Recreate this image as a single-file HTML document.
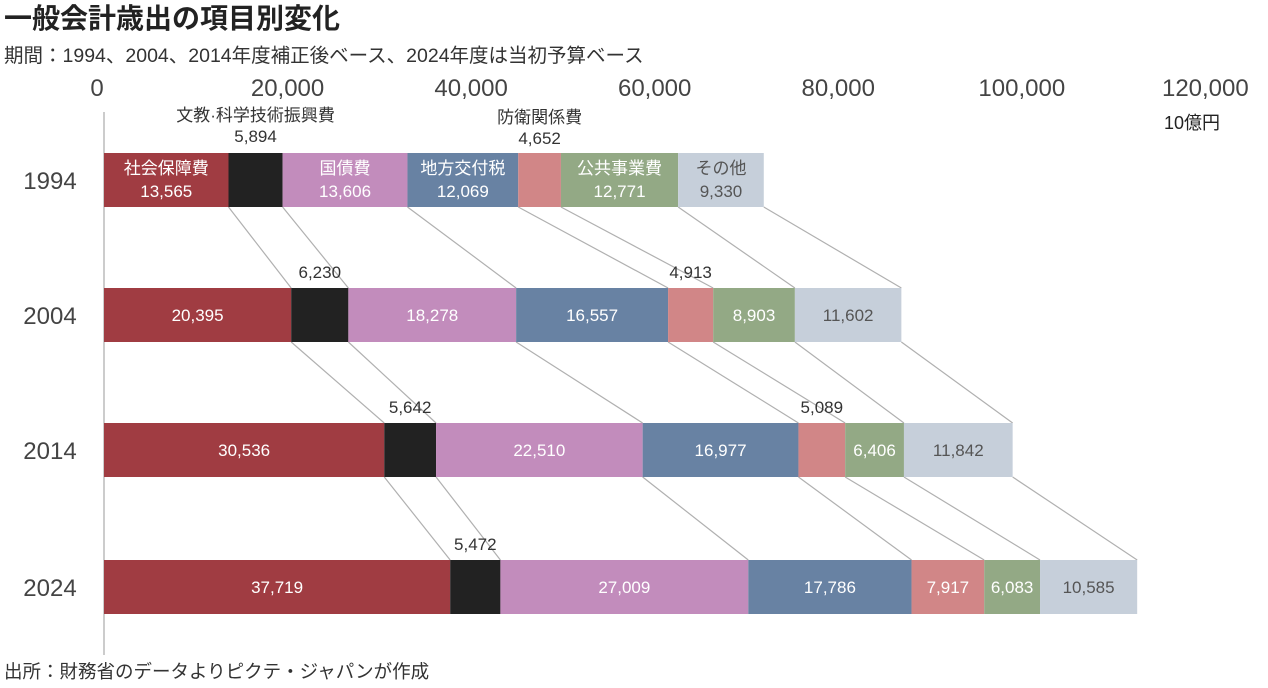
<!DOCTYPE html>
<html><head><meta charset="utf-8">
<style>
body{margin:0;background:#fff;width:1268px;height:688px;overflow:hidden;font-family:"Liberation Sans","Noto Sans CJK JP",sans-serif;}
svg{display:block}
</style></head>
<body>
<svg id="chart" width="1268" height="688">
<text x="4" y="28" font-size="28" font-weight="bold" fill="#222">一般会計歳出の項目別変化</text>
<text x="4" y="62" font-size="19.5" fill="#333">期間：1994、2004、2014年度補正後ベース、2024年度は当初予算ベース</text>
<text x="1192" y="129" font-size="18" fill="#222" text-anchor="middle">10億円</text>
<text x="4" y="678" font-size="18.5" fill="#333">出所：財務省のデータよりピクテ・ジャパンが作成</text>
<line x1="104" y1="112" x2="104" y2="655" stroke="#ccc" stroke-width="2"/>
<g id="ticks"></g><g id="links"></g><g id="bars"></g><g id="labels"></g>
</svg>
<script>
const years = ["1994","2004","2014","2024"];
const categories = ["社会保障費","文教·科学技術振興費","国債費","地方交付税","防衛関係費","公共事業費","その他"];
const social = [13565,20395,30536,37719];
const education = [5894,6230,5642,5472];
const debt = [13606,18278,22510,27009];
const localTax = [12069,16557,16977,17786];
const defense = [4652,4913,5089,7917];
const publicWorks = [12771,8903,6406,6083];
const other = [9330,11602,11842,10585];
const tickValues = [0,20000,40000,60000,80000,100000,120000];
const tickLabels = ["0","20,000","40,000","60,000","80,000","100,000","120,000"];

const series=[social,education,debt,localTax,defense,publicWorks,other];
const colors=["#a03c42","#222222","#c28cbc","#6882a3","#d18687","#93a985","#c6cfda"];
const textColors=["#fff","#fff","#fff","#fff","#fff","#fff","#555"];
const x=v=>104+v*0.009178;
const rowTop=[153,288,423,560], barH=54;
const NS="http://www.w3.org/2000/svg";
function el(tag,attrs,parent,text){const e=document.createElementNS(NS,tag);for(const k in attrs)e.setAttribute(k,attrs[k]);if(text!==undefined)e.textContent=text;document.getElementById(parent).appendChild(e);return e;}
const fmt=v=>v.toLocaleString("en-US");
tickValues.forEach((v,i)=>{
  const t=el("text",{x:v===0?x(v)-7:x(v),y:96,"font-size":24,fill:"#444","text-anchor":"middle"},"ticks",tickLabels[i]);
  
  
});
const bounds=years.map((y,r)=>{let c=0;const b=[0];series.forEach(s=>{c+=s[r];b.push(c);});return b;});
for(let r=0;r<years.length-1;r++){
  bounds[r].forEach((v,i)=>{if(i===0)return;
    const l=el("line",{x1:x(v),y1:rowTop[r]+barH,x2:x(bounds[r+1][i]),y2:rowTop[r+1],stroke:"#b0b0b0","stroke-width":1.2},"links");
    
    
  });
}
years.forEach((yr,r)=>{
  const yl=el("text",{x:50,y:rowTop[r]+barH/2+9,"font-size":24,fill:"#444","text-anchor":"middle"},"labels",yr);
  
  
  series.forEach((s,i)=>{
    const x0=x(bounds[r][i]),x1=x(bounds[r][i+1]),cx=(x0+x1)/2;
    const rc=el("rect",{x:x0,y:rowTop[r],width:x1-x0,height:barH,fill:colors[i]},"bars");
    
    
    const outside=(i===1)||(i===4&&r<3);
    if(r===0){
      if(outside){
        const n=el("text",{x:cx,y:i===1?121:123,"font-size":17,fill:"#333","text-anchor":"middle"},"labels",categories[i]);
        
        
        const v=el("text",{x:cx,y:i===1?142:144,"font-size":17,fill:"#333","text-anchor":"middle"},"labels",fmt(s[r]));
        
        
      } else {
        const n=el("text",{x:cx,y:rowTop[r]+21,"font-size":17,fill:textColors[i],"text-anchor":"middle"},"labels",categories[i]);
        
        
        const v=el("text",{x:cx,y:rowTop[r]+44,"font-size":17,fill:textColors[i],"text-anchor":"middle"},"labels",fmt(s[r]));
        
        
      }
    } else {
      const v=el("text",{x:cx,y:outside?rowTop[r]-10:rowTop[r]+barH/2+6,"font-size":17,fill:outside?"#333":textColors[i],"text-anchor":"middle"},"labels",fmt(s[r]));
      
      
    }
  });
});
</script>
</body></html>
